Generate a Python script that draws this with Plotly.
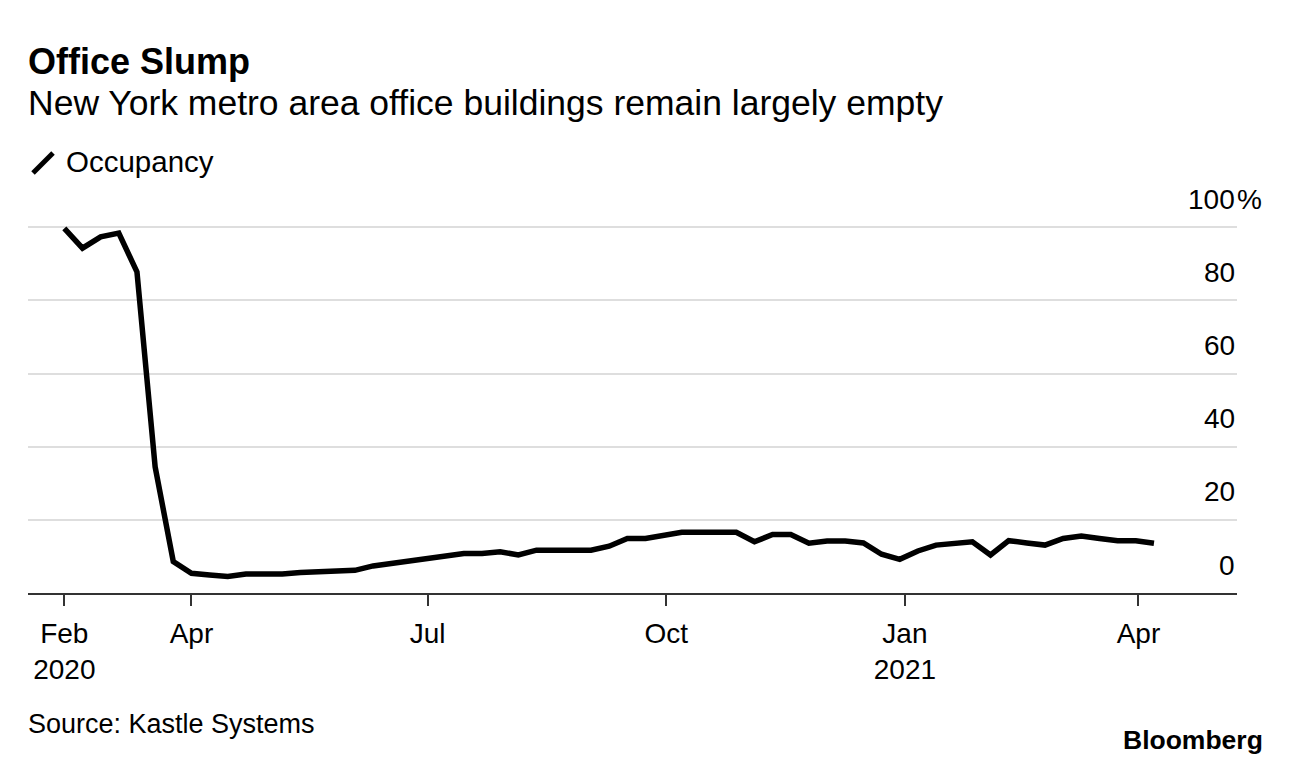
import plotly.graph_objects as go
import pandas as pd

# ---- data (weekly) ----
start_date = "2020-02-12"
occupancy = [
    99.7, 94.3, 97.4, 98.4, 87.8, 34.5, 8.6,           # Feb 12 - Mar 25, 2020
    5.4, 4.9, 4.5, 5.2, 5.2, 5.2, 5.6, 5.8, 6.2, 6.2,  # Apr 1 - Jun 3
    7.4, 8.1, 9.0, 9.7, 10.2, 10.8, 10.8, 11.3, 10.4,  # Jun 10 - Aug 5
    11.7, 11.7, 11.7, 11.7, 12.8, 14.9, 14.9, 15.7,    # Aug 12 - Sep 30
    16.6, 16.6, 16.6, 16.6, 14.0, 16.0, 16.0, 13.6,    # Oct 7 - Nov 25
    14.2, 14.2, 13.7, 10.6, 9.2,                       # Dec 2 - Dec 30
    11.5, 13.1, 13.6, 14.0, 10.4, 14.3, 13.7, 13.1,    # Jan 6 - Feb 24, 2021
    14.9, 15.6, 14.9, 14.3, 14.3, 13.6,                # Mar 3 - Apr 7
]
dates = pd.date_range(start=start_date, periods=len(occupancy), freq="7D")

x_tick_vals = ["2020-02-12", "2020-04-01", "2020-07-01", "2020-10-01", "2021-01-01", "2021-04-01"]
x_tick_text = ["Feb<br>2020", "Apr", "Jul", "Oct", "Jan<br>2021", "Apr"]
y_tick_vals = [0, 20, 40, 60, 80, 100]
y_tick_text = ["0", "20", "40", "60", "80", "100"]

FONT = "Liberation Sans, Arial, sans-serif"

# page geometry (the page body adds an 8px offset)
OFF = 8
W, H = 1292 - OFF, 764 - OFF
PL, PR, PT, PB = 28, 1237, 220, 593   # plot area in page pixels


def px(x):
    return (x - PL) / (PR - PL)


def py(y):
    return (PB - y) / (PB - PT)


fig = go.Figure()
fig.add_trace(go.Scatter(
    x=dates, y=occupancy, mode="lines", name="Occupancy",
    line=dict(color="#000000", width=5.5), showlegend=False, cliponaxis=False,
    hoverinfo="x+y",
))

annotations = []
for v, t in zip(y_tick_vals, y_tick_text):
    annotations.append(dict(
        x=1, xref="paper", y=v, yref="y", text=t, showarrow=False,
        xanchor="right", yanchor="middle", yshift=28,
        font=dict(family=FONT, size=28, color="#000"),
    ))
annotations.append(dict(
    x=1, xref="paper", y=100, yref="y", text="%", showarrow=False,
    xanchor="left", yanchor="middle", yshift=28, xshift=-2,
    font=dict(family=FONT, size=28, color="#000"),
))

# titles & texts
annotations += [
    dict(x=px(26), xref="paper", y=py(62), yref="paper", yanchor="middle",
         xanchor="left", text="<b>Office Slump</b>", showarrow=False,
         font=dict(family=FONT, size=36, color="#000")),
    dict(x=px(26), xref="paper", y=py(103), yref="paper", yanchor="middle",
         xanchor="left", text="New York metro area office buildings remain largely empty",
         showarrow=False, font=dict(family=FONT, size=35.5, color="#000")),
    dict(x=px(64), xref="paper", y=py(162), yref="paper", yanchor="middle",
         xanchor="left", text="Occupancy", showarrow=False,
         font=dict(family=FONT, size=29.5, color="#000")),
    dict(x=px(26), xref="paper", y=py(724), yref="paper", yanchor="middle",
         xanchor="left", text="Source: Kastle Systems", showarrow=False,
         font=dict(family=FONT, size=27, color="#000")),
    dict(x=px(1265), xref="paper", y=py(740), yref="paper", yanchor="middle",
         xanchor="right", text="<b>Bloomberg</b>", showarrow=False,
         font=dict(family=FONT, size=26.5, color="#000")),
]

shapes = [
    dict(type="line", xref="paper", yref="paper",
         x0=px(33), y0=py(173), x1=px(53), y1=py(153),
         line=dict(color="#000", width=5)),
]

fig.update_layout(
    width=W, height=H, autosize=False,
    margin=dict(l=PL - OFF, r=W - (PR - OFF), t=PT - OFF, b=H - (PB - OFF), pad=0),
    paper_bgcolor="#ffffff", plot_bgcolor="#ffffff",
    font=dict(family=FONT, size=28, color="#000"),
    annotations=annotations, shapes=shapes,
    xaxis=dict(
        type="date", range=["2020-01-29", "2021-05-09"],
        tickmode="array", tickvals=x_tick_vals, ticktext=x_tick_text,
        showgrid=False, zeroline=False,
        showline=True, linecolor="#333333", linewidth=2,
        ticks="outside", ticklen=11, tickwidth=2, tickcolor="#333333",
        ticklabelstandoff=3,
        tickfont=dict(family=FONT, size=28, color="#000"),
    ),
    yaxis=dict(
        range=[0, 102], tickmode="array", tickvals=y_tick_vals,
        showticklabels=False, showgrid=True, gridcolor="#dedede", gridwidth=2,
        zeroline=False, showline=False, fixedrange=True,
    ),
)

fig.write_html("out.html")
